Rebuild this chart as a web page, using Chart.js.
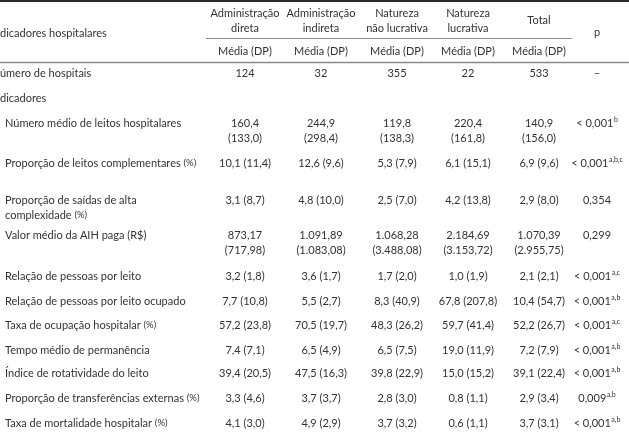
<!DOCTYPE html>
<html>
<head>
<meta charset="utf-8">
<script src="https://cdn.jsdelivr.net/npm/chart.js@4.4.1/dist/chart.umd.min.js"></script>
<style>
  html, body { margin: 0; padding: 0; background: #fff; }
  #wrap { width: 629px; height: 432px; }
</style>
</head>
<body>
<div id="wrap"><canvas id="tbl" width="629" height="432"></canvas></div>
<script>
// table content
const columnHeads = [
  ["Administração", "direta"],
  ["Administração", "indireta"],
  ["Natureza", "não lucrativa"],
  ["Natureza", "lucrativa"],
  ["Total"]
];
const statHead = "Média (DP)";
const firstHead = "Indicadores hospitalares";
const pHead = "p";

const rowLabels = [
  ["Número de hospitais"],
  ["Indicadores"],
  ["Número médio de leitos hospitalares"],
  ["Proporção de leitos complementares (%)"],
  ["Proporção de saídas de alta", "complexidade (%)"],
  ["Valor médio da AIH paga (R$)"],
  ["Relação de pessoas por leito"],
  ["Relação de pessoas por leito ocupado"],
  ["Taxa de ocupação hospitalar (%)"],
  ["Tempo médio de permanência"],
  ["Índice de rotatividade do leito"],
  ["Proporção de transferências externas (%)"],
  ["Taxa de mortalidade hospitalar (%)"]
];

const admDireta = [["124"], [""], ["160,4", "(133,0)"], ["10,1 (11,4)"], ["3,1 (8,7)"], ["873,17", "(717,98)"],
  ["3,2 (1,8)"], ["7,7 (10,8)"], ["57,2 (23,8)"], ["7,4 (7,1)"], ["39,4 (20,5)"], ["3,3 (4,6)"], ["4,1 (3,0)"]];
const admIndireta = [["32"], [""], ["244,9", "(298,4)"], ["12,6 (9,6)"], ["4,8 (10,0)"], ["1.091,89", "(1.083,08)"],
  ["3,6 (1,7)"], ["5,5 (2,7)"], ["70,5 (19,7)"], ["6,5 (4,9)"], ["47,5 (16,3)"], ["3,7 (3,7)"], ["4,9 (2,9)"]];
const naoLucrativa = [["355"], [""], ["119,8", "(138,3)"], ["5,3 (7,9)"], ["2,5 (7,0)"], ["1.068,28", "(3.488,08)"],
  ["1,7 (2,0)"], ["8,3 (40,9)"], ["48,3 (26,2)"], ["6,5 (7,5)"], ["39,8 (22,9)"], ["2,8 (3,0)"], ["3,7 (3,2)"]];
const lucrativa = [["22"], [""], ["220,4", "(161,8)"], ["6,1 (15,1)"], ["4,2 (13,8)"], ["2.184,69", "(3.153,72)"],
  ["1,0 (1,9)"], ["67,8 (207,8)"], ["59,7 (41,4)"], ["19,0 (11,9)"], ["15,0 (15,2)"], ["0,8 (1,1)"], ["0,6 (1,1)"]];
const total = [["533"], [""], ["140,9", "(156,0)"], ["6,9 (9,6)"], ["2,9 (8,0)"], ["1.070,39", "(2.955,75)"],
  ["2,1 (2,1)"], ["10,4 (54,7)"], ["52,2 (26,7)"], ["7,2 (7,9)"], ["39,1 (22,4)"], ["2,9 (3,4)"], ["3,7 (3,1)"]];
const pValues = ["–", "", "< 0,001", "< 0,001", "0,354", "0,299", "< 0,001", "< 0,001", "< 0,001",
  "< 0,001", "< 0,001", "0,009", "< 0,001"];
const pMarks = ["", "", "b", "a,b,c", "", "", "a,c", "a,b", "a,c", "a,b", "a,b", "a,b", "a,b"];

// layout (table units on the chart's linear scales)
const colX = [245, 321, 397, 468, 539, 597];
const rowY = [73, 98, 123, 163, 200, 235, 276, 301, 325, 350, 373, 398, 423];
const lineGap = 15;
const indentX = 5;
const cutPrefix = { 0: "N", 1: "In" };

const FONT = '"Lato", "Open Sans", sans-serif';
const textColor = "#333333";

const tablePlugin = {
  id: "tablePlugin",
  afterDraw(chart) {
    const ctx = chart.ctx;
    const xs = chart.scales.x;
    const ys = chart.scales.y;
    const X = v => xs.getPixelForValue(v);
    const Y = v => ys.getPixelForValue(v);
    const cols = [admDireta, admIndireta, naoLucrativa, lucrativa, total];

    ctx.save();
    ctx.textBaseline = "middle";
    ctx.fillStyle = textColor;

    // rules
    ctx.strokeStyle = "#2a2a2a";
    ctx.lineWidth = 2;
    ctx.beginPath(); ctx.moveTo(X(0), Y(1)); ctx.lineTo(X(629), Y(1)); ctx.stroke();
    ctx.strokeStyle = "#8a8a8a";
    ctx.lineWidth = 1;
    ctx.beginPath(); ctx.moveTo(X(206), Y(38.5)); ctx.lineTo(X(572), Y(38.5)); ctx.stroke();
    ctx.lineWidth = 1.5;
    ctx.beginPath(); ctx.moveTo(X(0), Y(62.5)); ctx.lineTo(X(629), Y(62.5)); ctx.stroke();

    const main = "11px " + FONT;
    const small = "9.5px " + FONT;
    const sup = "7px " + FONT;

    // header
    ctx.font = main;
    ctx.textAlign = "left";
    ctx.fillText(firstHead, X(0) - ctx.measureText("In").width, Y(33));
    ctx.textAlign = "center";
    columnHeads.forEach((lines, i) => {
      if (lines.length === 1) {
        ctx.fillText(lines[0], X(colX[i]), Y(20));
      } else {
        ctx.fillText(lines[0], X(colX[i]), Y(13));
        ctx.fillText(lines[1], X(colX[i]), Y(28));
      }
      ctx.fillText(statHead, X(colX[i]), Y(51));
    });
    ctx.fillText(pHead, X(colX[5]), Y(32));

    // body
    rowLabels.forEach((lines, r) => {
      lines.forEach((txt, k) => {
        ctx.textAlign = "left";
        let x = X(indentX);
        const y = Y(rowY[r] + k * lineGap);
        ctx.font = main;
        if (cutPrefix[r]) x = X(0) - ctx.measureText(cutPrefix[r]).width;
        if (txt.endsWith("(%)")) {
          const head = txt.slice(0, -3);
          ctx.fillText(head, x, y);
          const w = ctx.measureText(head).width;
          ctx.font = small;
          ctx.fillText("(%)", x + w, y);
        } else {
          ctx.fillText(txt, x, y);
        }
      });
      ctx.font = main;
      ctx.textAlign = "center";
      cols.forEach((col, c) => {
        col[r].forEach((txt, k) => {
          ctx.fillText(txt, X(colX[c]), Y(rowY[r] + k * lineGap));
        });
      });
      if (pValues[r]) {
        const y = Y(rowY[r]);
        ctx.font = main;
        const w = ctx.measureText(pValues[r]).width;
        ctx.font = sup;
        const s = pMarks[r] ? ctx.measureText(pMarks[r]).width + 0.5 : 0;
        const x0 = X(colX[5]) - (w + s) / 2;
        ctx.textAlign = "left";
        ctx.font = main;
        ctx.fillText(pValues[r], x0, y);
        if (pMarks[r]) {
          ctx.font = sup;
          ctx.fillText(pMarks[r], x0 + w + 0.5, y - 3.5);
        }
      }
    });
    ctx.restore();
  }
};

new Chart(document.getElementById("tbl"), {
  type: "scatter",
  data: { datasets: [] },
  options: {
    responsive: false,
    animation: false,
    layout: { padding: 0 },
    plugins: { legend: { display: false }, tooltip: { enabled: false } },
    scales: {
      x: { type: "linear", min: 0, max: 629, display: false },
      y: { type: "linear", min: 0, max: 432, reverse: true, display: false }
    }
  },
  plugins: [tablePlugin]
});
</script>
</body>
</html>
